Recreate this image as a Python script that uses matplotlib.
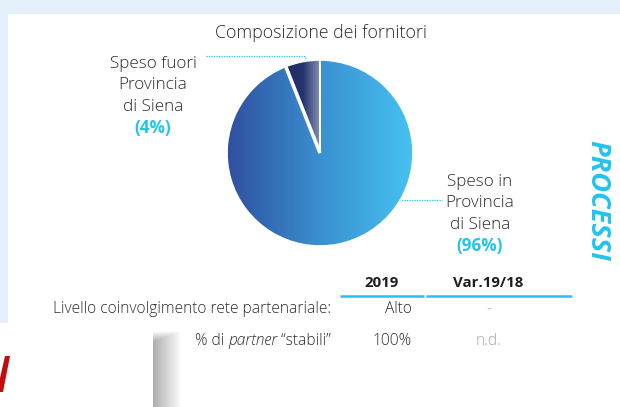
import numpy as np
import matplotlib.pyplot as plt
from matplotlib.colors import LinearSegmentedColormap

plt.rcParams['font.family'] = ['Open Sans', 'DejaVu Sans']

# chart data
title = "Composizione dei fornitori"
slice_names = ["Speso fuori\nProvincia\ndi Siena", "Speso in\nProvincia\ndi Siena"]
slice_sizes = [6, 94]          # slice sizes as drawn in the picture
slice_pct = ["(4%)", "(96%)"]  # printed labels

col_heads = ["2019", "Var.19/18"]
row_labels = ["Livello coinvolgimento rete partenariale:", "% di |partner| “stabili”"]
values_2019 = ["Alto", "100%"]
values_var = ["-", "n.d."]

W, H = 620, 407
TXT = "#2c2c2c"
CYAN = "#22c3f0"
fig = plt.figure(figsize=(W / 100, H / 100), dpi=100)

# page layer in pixel coords
ax = fig.add_axes([0, 0, 1, 1])
ax.set_xlim(0, W); ax.set_ylim(H, 0); ax.axis("off")
ax.add_patch(plt.Rectangle((0, 0), W, 14, color="#e4f1fd", lw=0))
ax.add_patch(plt.Rectangle((0, 0), 8, 323, color="#e4f1fd", lw=0))

# shadow strip bottom left
shade = np.linspace(0.68, 1.0, 60)[None, :] * np.ones((40, 1))
shade[:6] = np.maximum(shade[:6], np.linspace(1, 0.72, 6)[:, None])
ax.imshow(shade, cmap="gray", vmin=0, vmax=1, extent=[153, 182, H, 330],
          aspect="auto", zorder=1)
# red logo piece
ax.add_patch(plt.Polygon([[0, 392], [3, 392], [10, 356], [5, 356], [0, 378]],
                         color="#c00d0d", lw=0))

ax.text(321, 33, title, ha="center", va="center", fontsize=12.8, color=TXT,
        fontweight="light")

# pie
pax = fig.add_axes([227 / W, 1 - 246 / H, 186 / W, 186 / H])
wedges, _ = pax.pie(slice_sizes, startangle=90, counterclock=True,
                    wedgeprops=dict(edgecolor="white", linewidth=1.2))
pax.set_xlim(-1, 1); pax.set_ylim(-1, 1); pax.set_aspect("equal")
cmaps = [LinearSegmentedColormap.from_list("d", ["#1f2a5c", "#263470", "#8a96b6"]),
         LinearSegmentedColormap.from_list("b", ["#2f4f9f", "#3a8fd0", "#46c2f1"])]
grad = np.linspace(0, 1, 256)[None, :]
for w, cm in zip(wedges, cmaps):
    w.set_facecolor("none")
    th = np.radians([w.theta1, w.theta2])
    xs = [0, *np.cos(np.linspace(th[0], th[1], 50))]
    x0, x1 = min(xs), max(xs)
    im = pax.imshow(grad, cmap=cm, extent=[x0, x1, -1, 1], aspect="auto", zorder=0)
    im.set_clip_path(w)
    w.set_zorder(2)
t = np.radians(wedges[0].theta2)
pax.plot([0, np.cos(t)], [0, np.sin(t)], color="white", lw=2.6, zorder=3,
         solid_capstyle="butt")
pax.set_xlim(-1, 1); pax.set_ylim(-1, 1)

# leader lines
ax.plot([206, 305, 305], [56, 56, 77], color=CYAN, lw=0.9, ls=(0, (1, 1)))
ax.plot([399, 442], [200, 200], color=CYAN, lw=0.9, ls=(0, (1, 1)))

# slice labels
for name, pct, (x, y) in zip(slice_names, slice_pct, [(153, 64), (480, 182)]):
    for i, line in enumerate(name.split("\n")):
        ax.text(x, y + i * 21.3, line, ha="center", va="center", fontsize=12.3,
                color=TXT, fontweight="light")
    ax.text(x, y + 3 * 21.3, pct, ha="center", va="center", fontsize=12.3,
            color=CYAN, fontweight="bold")

ax.text(597, 200, "PROCESSI", rotation=-90, ha="center", va="center",
        fontsize=19.5, color=CYAN, fontweight="bold", fontstyle="italic")

# table
ax.text(382, 283, col_heads[0], ha="center", va="center", fontsize=10.8,
        fontweight="bold", color="#1e1e1e")
ax.text(488, 283, col_heads[1], ha="center", va="center", fontsize=10.8,
        fontweight="bold", color="#1e1e1e")
ax.plot([340, 424], [296, 296], color=CYAN, lw=1.8, solid_capstyle="butt")
ax.plot([426, 572], [296, 296], color=CYAN, lw=1.8, solid_capstyle="butt")

rend = fig.canvas.get_renderer()
rows_y = [309, 341]
for lab, v1, v2, y in zip(row_labels, values_2019, values_var, rows_y):
    parts = lab.split("|")
    xr = 331
    for k, part in reversed(list(enumerate(parts))):
        t = ax.text(xr, y, part, ha="right", va="center", fontsize=11.2,
                    color=TXT, fontweight="light",
                    fontstyle="italic" if k == 1 else "normal")
        bb = t.get_window_extent(rend)
        xr -= bb.width
    ax.text(412, y, v1, ha="right", va="center", fontsize=11.2, color=TXT,
            fontweight="light")
    ax.text(489, y, v2, ha="center", va="center", fontsize=11.2, color="#a8a8a8",
            fontweight="light")

fig.savefig("out.png", dpi=100)
